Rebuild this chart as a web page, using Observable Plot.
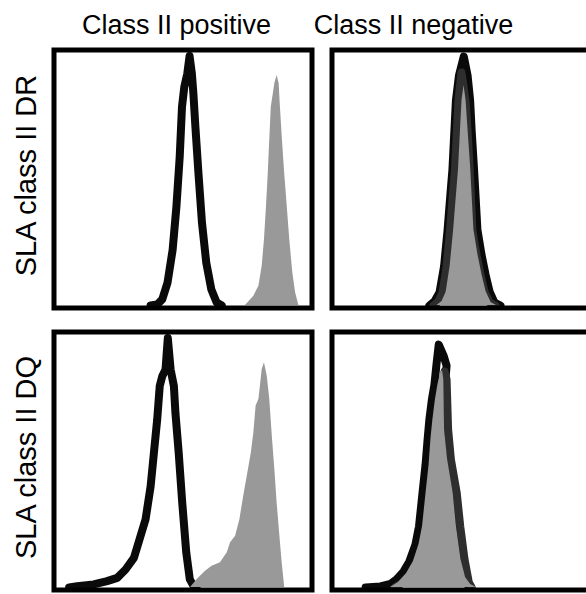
<!DOCTYPE html>
<html><head><meta charset="utf-8">
<script src="https://cdn.jsdelivr.net/npm/d3@7"></script>
<script src="https://cdn.jsdelivr.net/npm/@observablehq/plot@0.6"></script>
<style>
html,body{margin:0;padding:0;background:#fff;overflow:hidden;width:586px;height:594px}
svg{max-width:none !important}
</style>
</head><body><div id="chart"></div>
<script>
// Facet categories
const columns = ["Class II positive", "Class II negative"];
const rows = ["SLA class II DR", "SLA class II DQ"];
// Series: control (black outline), isotype (dark grey outline), stained (grey filled)
// Values: [fluorescence (0-100 of axis), relative count (0-100 of max)]

const drPositiveControl = [[37.2,0],[39.8,0.4],[41.8,2.4],[43.9,9.1],[45.9,22.0],[47.4,39.1],[48.7,58.8],[49.6,78.5],[50.5,86.3],[51.7,91.7],[52.6,98.6],[53.5,91.7],[54.1,83.9],[54.9,70.6],[56.1,52.4],[57.5,32.7],[59.2,16.9],[61.2,6.3],[63.3,1.2],[65.3,0]];
const drPositiveStained = [[74.7,0],[78.0,3.7],[80.0,7.6],[81.3,15.5],[82.2,26.0],[83.0,39.1],[83.7,52.2],[84.3,65.4],[84.9,78.5],[85.7,83.7],[86.3,87.7],[87.2,90.9],[88.0,87.7],[88.5,78.5],[89.3,65.4],[90.2,52.2],[91.2,39.1],[92.2,26.0],[93.4,12.9],[94.5,5.0],[95.8,0]];

const drNegativeControl = [[37.5,0],[39.5,1.6],[41.5,5.1],[43.3,15.4],[44.7,29.9],[45.8,43.7],[46.6,53.5],[47.4,69.3],[48.0,81.1],[49.2,90.9],[51.1,98.4],[52.6,90.9],[53.6,81.1],[54.2,69.3],[55.1,54.7],[56.5,29.9],[58.1,20.1],[59.7,12.2],[61.3,5.5],[63.2,1.2],[65.6,0]];
const drNegativeIsotype = [[39.1,0],[41.1,1.6],[42.7,5.1],[44.3,15.4],[45.7,29.9],[46.8,43.7],[47.6,53.5],[48.4,69.3],[49.0,81.1],[50.2,92.1],[51.8,81.1],[52.6,69.3],[53.4,54.7],[54.5,29.9],[56.1,20.1],[57.7,12.2],[59.3,5.5],[61.3,1.2],[63.6,0]];
const drNegativeStained = [[40.5,0],[42.5,1.6],[44.1,5.1],[45.7,15.4],[47.1,29.9],[48.2,43.7],[49.0,53.5],[49.8,69.3],[50.4,81.1],[51.2,87.0],[52.0,81.1],[52.8,69.3],[53.8,54.7],[55.1,29.9],[56.7,20.1],[58.3,12.2],[59.9,5.5],[61.9,1.2],[64.0,0]];

const dqPositiveControl = [[5,0],[8.2,0.5],[14.7,1.2],[20.0,2.5],[24.0,3.8],[27.3,7.1],[30.6,11.7],[33.2,20.3],[35.2,26.9],[37.2,40.0],[38.5,53.2],[39.8,66.4],[40.8,79.6],[41.8,83.5],[43.1,86.2],[44.0,98.6],[45.1,86.2],[46.4,79.6],[47.0,69.1],[48.3,53.2],[49.7,33.5],[51.3,13.7],[52.7,3.2],[54.0,0.9],[55.3,0]];
const dqPositiveStained = [[53.0,0],[55.6,3.2],[58.9,6.4],[61.5,8.4],[64.8,9.8],[67.5,13.7],[68.8,17.7],[70.8,20.3],[72.5,26.9],[74.0,36.1],[75.4,44.0],[77.0,53.2],[78.0,61.1],[78.9,71.7],[80.0,74.3],[80.6,79.6],[81.3,86.2],[82.2,88.8],[83.3,83.5],[84.3,74.3],[85.3,59.8],[86.3,46.6],[87.2,33.5],[88.3,20.3],[89.2,9.8],[90.2,0]];

const dqNegativeControl = [[12.3,0],[18.2,0.4],[22.1,1.4],[24.5,3.2],[27.3,6.3],[29.6,10.3],[32.0,17.0],[33.4,24.1],[34.8,37.5],[36.0,48.6],[36.8,58.5],[37.5,66.4],[38.5,74.3],[39.5,80.2],[40.3,88.1],[41.2,96.0],[43.1,91.7],[44.3,87.7],[43.3,75.5],[43.7,62.5],[44.9,50.6],[47.3,37.5],[48.7,24.1],[50.4,11.1],[52.1,2.0],[53.2,0]];
const dqNegativeIsotype = [[23.9,0],[27.1,2.0],[30.2,5.5],[33.0,10.3],[35.2,17.0],[36.6,24.1],[37.9,37.5],[39.1,48.6],[39.9,58.5],[40.7,66.4],[41.7,74.3],[42.5,80.2],[43.5,85.4],[44.3,82.2],[44.5,75.5],[44.9,62.5],[46.0,50.6],[48.3,37.5],[49.7,24.1],[51.4,11.1],[53.1,2.0],[54.2,0]];
const dqNegativeStained = [[22.1,0],[25.3,2.0],[28.5,5.5],[31.2,10.3],[33.4,17.0],[34.8,24.1],[36.2,37.5],[37.4,48.6],[38.1,58.5],[38.9,66.4],[39.9,74.3],[40.9,80.2],[41.9,84.6],[42.7,85.8],[43.2,82.2],[43.3,75.5],[43.5,62.5],[44.7,50.6],[46.9,37.5],[48.2,24.1],[50.0,11.1],[51.8,4.0],[53.8,1.2],[56.1,0]];

const table = [];
function add(row, col, series, pts) {
  pts.forEach(([x, y]) => table.push({row, col, series, x, y}));
}
add(rows[0], columns[0], "control", drPositiveControl);
add(rows[0], columns[0], "stained", drPositiveStained);
add(rows[0], columns[1], "control", drNegativeControl);
add(rows[0], columns[1], "isotype", drNegativeIsotype);
add(rows[0], columns[1], "stained", drNegativeStained);
add(rows[1], columns[0], "control", dqPositiveControl);
add(rows[1], columns[0], "stained", dqPositiveStained);
add(rows[1], columns[1], "control", dqNegativeControl);
add(rows[1], columns[1], "isotype", dqNegativeIsotype);
add(rows[1], columns[1], "stained", dqNegativeStained);

const sel = s => table.filter(d => d.series === s);
const font = "Liberation Sans, Arial, Helvetica, sans-serif";

const chart = Plot.plot({
  width: 600, height: 594,
  marginLeft: 51, marginRight: 8, marginTop: 47, marginBottom: 1,
  style: {maxWidth: "none", background: "white", fontFamily: font},
  fx: {domain: columns, paddingInner: 0.054, paddingOuter: 0, axis: null},
  fy: {domain: rows, paddingInner: 0.0673, paddingOuter: 0, axis: null},
  x: {domain: [0, 100], inset: 5, axis: null},
  y: {domain: [0, 100], inset: 5, axis: null},
  marks: [
    Plot.line(sel("control"), {x: "x", y: "y", fx: "col", fy: "row", z: "row", stroke: "#0a0a0a", strokeWidth: 8, strokeLinejoin: "round", strokeLinecap: "round"}),
    Plot.line(sel("isotype"), {x: "x", y: "y", fx: "col", fy: "row", z: "row", stroke: "#2e2e2e", strokeWidth: 8, strokeLinejoin: "round", strokeLinecap: "round"}),
    Plot.areaY(sel("stained"), {x: "x", y: "y", fx: "col", fy: "row", z: "row", fill: "#999999"}),
    Plot.frame({stroke: "#000", strokeWidth: 5, inset: 2.5}),
    Plot.text([columns[0]], {fx: d => d, fy: () => rows[0], text: d => d, frameAnchor: "top", textAnchor: "middle", lineAnchor: "bottom", dy: -14, dx: -6.5, fontSize: 27, fill: "#000", fontFamily: font}),
    Plot.text([columns[1]], {fx: d => d, fy: () => rows[0], text: d => d, frameAnchor: "top", textAnchor: "middle", lineAnchor: "bottom", dy: -14, dx: -47.5, fontSize: 27, fill: "#000", fontFamily: font}),
    Plot.text(rows, {fy: d => d, fx: () => columns[0], text: d => d, frameAnchor: "left", textAnchor: "middle", lineAnchor: "bottom", rotate: -90, dx: -16, dy: -3.5, fontSize: 29, fill: "#000", fontFamily: font})
  ]
});
document.getElementById("chart").appendChild(chart);
</script>
</body></html>
